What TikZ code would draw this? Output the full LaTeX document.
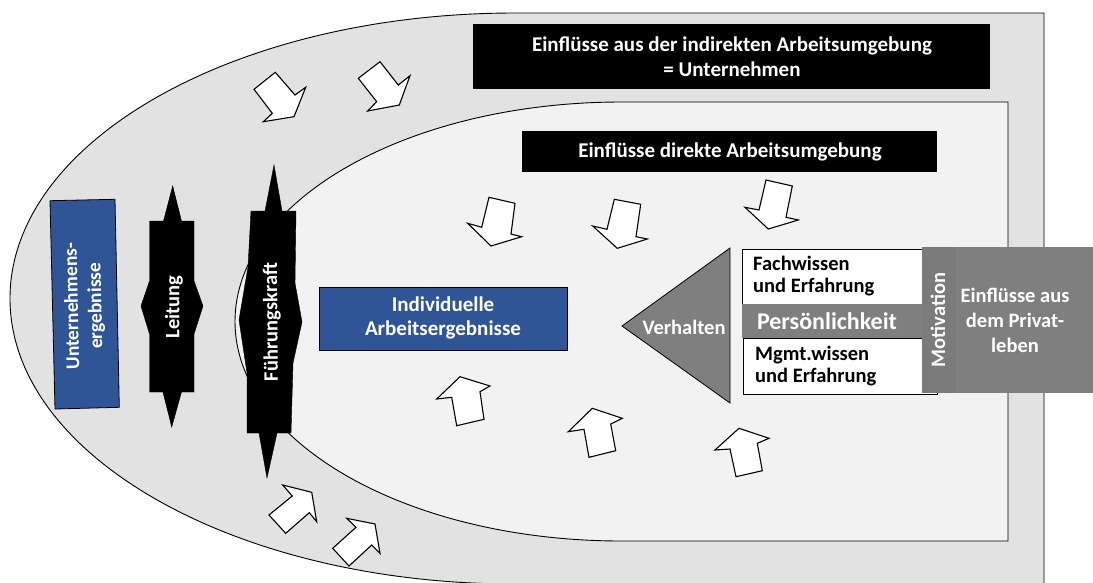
\documentclass[tikz,border=0pt]{standalone}
\usepackage{fontspec}
\setmainfont{Carlito}
\definecolor{outerfill}{HTML}{E2E2E2}
\definecolor{innerfill}{HTML}{F2F2F2}
\definecolor{boxblue}{HTML}{2F5597}
\definecolor{midgray}{HTML}{7F7F7F}
\definecolor{motgray}{HTML}{7B7B7B}
\begin{document}
\begin{tikzpicture}[x=1pt,y=-1pt,
  blockarrow/.style={fill=white,draw=black,line width=1.1pt,line join=miter},
  blackarrow/.style={fill=black,draw=black,line width=0.4pt},
  region/.style={draw=black,line width=0.9pt},
  wtxt/.style={text=white,font=\fontsize{20.5}{25}\selectfont\bfseries,align=center,inner sep=0pt},
  btxt/.style={text=black,font=\fontsize{20.5}{21.5}\selectfont\bfseries,align=left,inner sep=0pt,anchor=west},
]
\useasboundingbox (0,0) rectangle (1093,582);
\fill[white] (0,0) rectangle (1093,582);
% outer region
\path[region,fill=outerfill] (515,13) -- (1044,13) -- (1044,584) -- (515,584)
  .. controls (236.1,584) and (10,456.2) .. (10,298.5)
  .. controls (10,140.8) and (236.1,13) .. (515,13) -- cycle;
% inner region
\path[region,fill=innerfill] (621.5,102) -- (1008,102) -- (1008,541) -- (621.5,541)
  .. controls (408,541) and (235,442.7) .. (235,321.5)
  .. controls (235,200.3) and (408,102) .. (621.5,102) -- cycle;
% black title boxes
\fill[black] (473,24) rectangle (990,89);
\node[wtxt,font=\fontsize{21}{25}\selectfont\bfseries] (indirekt) at (732,57) {Einflüsse aus der indirekten Arbeitsumgebung\\= Unternehmen};
\fill[black] (522,131) rectangle (937,172);
\node[wtxt,font=\fontsize{21}{25}\selectfont\bfseries] (direkt) at (730,152) {Einflüsse direkte Arbeitsumgebung};
% block arrows
\draw[blockarrow] (254,89.3) -- (275.3,72.3) -- (295,95) -- (305.7,87.3) -- (294,116.7) -- (263.3,121.7) -- (272.3,113.3) -- cycle;
\draw[blockarrow] (358.3,78.3) -- (380,61.7) -- (398.3,85) -- (410,75.7) -- (399.3,105) -- (367.7,111) -- (376.7,101.7) -- cycle;
\draw[blockarrow] (489,197.3) -- (515,203.3) -- (511,234) -- (521.7,236.7) -- (491,246) -- (467.7,223.3) -- (481.7,227.3) -- cycle;
\draw[blockarrow] (614.3,199.3) -- (640.7,204.3) -- (636,236.7) -- (647.3,239) -- (617.3,248.3) -- (592.7,226) -- (607,229.3) -- cycle;
\draw[blockarrow] (766,180) -- (792.3,186) -- (786,217.3) -- (798.3,220) -- (768.3,229) -- (745,207.3) -- (759,210) -- cycle;
\draw[blockarrow] (460,376.7) -- (490,386) -- (480,391.7) -- (484,419.3) -- (456.7,425.7) -- (451.7,397.3) -- (436.7,399) -- cycle;
\draw[blockarrow] (592.3,408.3) -- (622.3,418.3) -- (610.7,424) -- (615.7,450.7) -- (589,457.3) -- (584,429.3) -- (568.3,431.7) -- cycle;
\draw[blockarrow] (739,428.3) -- (769,438.3) -- (757.3,443.3) -- (762.3,470.7) -- (736,476.7) -- (730,449) -- (715,450) -- cycle;
\draw[blockarrow] (282.7,485) -- (311.7,492.3) -- (316.7,521.7) -- (309.3,512.7) -- (285.7,533.3) -- (269,515) -- (292.3,496) -- cycle;
\draw[blockarrow] (346.7,518.3) -- (375,524) -- (380,553.3) -- (371.7,545) -- (349,566) -- (332.7,548.3) -- (356,527.3) -- cycle;
% Leitung double arrow
\draw[blackarrow] (172.7,186) -- (181.5,221) -- (194,221) -- (194,281) -- (203,306) -- (194,334) -- (194,392)
  -- (181.5,392) -- (171.7,427) -- (163,392) -- (149.5,392) -- (149.5,334) -- (141,306) -- (149.5,281)
  -- (149.5,221) -- (163.5,221) -- cycle;
\node[wtxt,rotate=90] (leitung) at (174,307) {Leitung};
% Fuehrungskraft double arrow
\draw[blackarrow] (274,165) -- (282,211) -- (296,211) -- (295,283) -- (302,322) -- (293,363) -- (291,433)
  -- (277,433) -- (267,478) -- (259,433) -- (247,433) -- (247,373) -- (239,320) -- (248,267)
  -- (251,211) -- (265,211) -- cycle;
\node[wtxt,rotate=90.5] (fuehrung) at (272,322) {Führungskraft};
% blue boxes
\draw[fill=boxblue,draw=black,line width=0.8pt] (50,200.7) -- (115,199.3) -- (119.3,407.3) -- (55,409) -- cycle;
\node[wtxt,rotate=91.2,font=\fontsize{19.5}{23.5}\selectfont\bfseries] (unternehmen) at (84.5,306) {Unternehmens-\\ergebnisse};
\draw[fill=boxblue,draw=black,line width=0.8pt] (319,287) rectangle (567,350);
\node[wtxt,font=\fontsize{21}{24}\selectfont\bfseries] (individuell) at (443,318) {Individuelle\\Arbeitsergebnisse};
% right group
\draw[fill=midgray,draw=black,line width=0.8pt] (622,326) -- (730,248) -- (730,403) -- cycle;
\node[wtxt] (verhalten) at (684,327) {Verhalten};
\draw[fill=white,draw=black,line width=0.8pt] (742,249) rectangle (922,304);
\fill[midgray] (742,304) rectangle (922,338);
\draw[fill=white,draw=black,line width=0.8pt] (743,338) rectangle (937,394);
\fill[midgray] (922,247) rectangle (1093,393);
\fill[motgray] (922,247) rectangle (956,393);
\node[btxt] (fach) at (753,276) {Fachwissen\\und Erfahrung};
\node[wtxt,font=\fontsize{24}{28}\selectfont\bfseries] (pers) at (827,321) {Persönlichkeit};
\node[btxt] (mgmt) at (755,366) {Mgmt.wissen\\und Erfahrung};
\node[wtxt,rotate=90] (motiv) at (938,320) {Motivation};
\node[wtxt] (privat) at (1015,320) {Einflüsse aus\\dem Privat-\\leben};
\end{tikzpicture}
\end{document}
